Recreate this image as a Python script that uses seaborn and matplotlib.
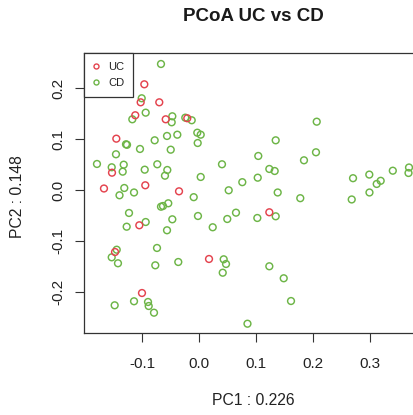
import matplotlib
matplotlib.use("Agg")
import matplotlib.pyplot as plt
from matplotlib.lines import Line2D
import seaborn as sns
import pandas as pd

# ---- data ----
groups = ["UC", "CD"]
uc_pc1 = [-0.0961, -0.1025, -0.0698, -0.1120, -0.0585, -0.0206, -0.1453, -0.1529,
          -0.1670, -0.0944, -0.0351, -0.1049, -0.1476, 0.0176, -0.1002, 0.1236]
uc_pc2 = [0.2078, 0.1725, 0.1725, 0.1471, 0.1392, 0.1412, 0.1012, 0.0345,
          0.0035, 0.0098, -0.0020, -0.0686, -0.1210, -0.1347, -0.2014, -0.0431]
cd_pc1 = [-0.0668, -0.1007, -0.0937, -0.1172, -0.0469, -0.0480, -0.0241, -0.0128,
          -0.0030, 0.0030, -0.0023, -0.0381, -0.0562, -0.0779, -0.1283, -0.1265,
          -0.1037, -0.0497, -0.1459, -0.1793, -0.1534, -0.1323, -0.1341, -0.0954,
          -0.0733, -0.0557, -0.0598, 0.0030, 0.0404, 0.0761, 0.0522, -0.1313,
          -0.1397, -0.1142, -0.0093, -0.0540, -0.0633, -0.0668, -0.1230, -0.0469,
          -0.0018, 0.0497, 0.0650, -0.0937, -0.1271, -0.0562, 0.0241, -0.1446,
          -0.1534, -0.1424, -0.0738, -0.0768, -0.0364, 0.0434, 0.0475, 0.0417,
          -0.1142, -0.1482, -0.0896, -0.0884, -0.0791, 0.0852, 0.2069, 0.1348,
          0.1042, 0.1845, 0.2056, 0.1032, 0.1236, 0.1330, 0.1383, 0.1780,
          0.2707, 0.2993, 0.3123, 0.3193, 0.2996, 0.2684, 0.3406, 0.3691,
          0.3682, 0.1025, 0.1348, 0.1236, 0.1489, 0.1617]
cd_pc2 = [0.2476, 0.1804, 0.1522, 0.1392, 0.1451, 0.1333, 0.1424, 0.1373,
          0.1129, 0.1090, 0.0927, 0.1090, 0.1065, 0.0980, 0.0902, 0.0892,
          0.0810, 0.0796, 0.0706, 0.0516, 0.0451, 0.0502, 0.0365, 0.0404,
          0.0510, 0.0398, 0.0286, 0.0261, 0.0510, 0.0159, 0.0000, 0.0045,
          -0.0098, -0.0043, -0.0135, -0.0255, -0.0308, -0.0322, -0.0445, -0.0569,
          -0.0504, -0.0563, -0.0439, -0.0622, -0.0714, -0.0784, -0.0725, -0.1165,
          -0.1314, -0.1431, -0.1131, -0.1471, -0.1406, -0.1353, -0.1445, -0.1616,
          -0.2176, -0.2255, -0.2190, -0.2269, -0.2400, -0.2616, 0.1345, 0.0980,
          0.0673, 0.0588, 0.0745, 0.0247, 0.0418, 0.0378, -0.0043, -0.0155,
          0.0237, 0.0308, 0.0124, 0.0186, -0.0043, -0.0180, 0.0384, 0.0447,
          0.0339, -0.0543, -0.0510, -0.1490, -0.1725, -0.2171]
x_ticks = [-0.1, 0.0, 0.1, 0.2, 0.3]
y_ticks = [-0.2, -0.1, 0.0, 0.1, 0.2]
title = "PCoA UC vs CD"
xlabel = "PC1 : 0.226"
ylabel = "PC2 : 0.148"

df = pd.concat([
    pd.DataFrame({"PC1": cd_pc1, "PC2": cd_pc2, "group": "CD"}),
    pd.DataFrame({"PC1": uc_pc1, "PC2": uc_pc2, "group": "UC"}),
], ignore_index=True)

palette = {"UC": "#E4434E", "CD": "#6DB547"}

sns.set_style("white")
plt.rcParams["font.family"] = ["Liberation Sans", "DejaVu Sans"]

fig = plt.figure(figsize=(4.14, 4.15), dpi=100)
ax = fig.add_axes([0.2029, 0.1976, 0.8164, 0.6735])

sns.scatterplot(data=df, x="PC1", y="PC2", hue="group", hue_order=groups,
                palette=palette, s=24, marker="o", legend=False, ax=ax, zorder=3)
coll = ax.collections[0]
fc = coll.get_facecolors()
coll.set_edgecolors(fc)
coll.set_facecolors("none")
coll.set_linewidths(1.05)

ax.set_xlim(-0.2021, 0.3919)
ax.set_ylim(-0.2798, 0.2682)
ax.set_xticks(x_ticks)
ax.set_xticklabels([f"{v:.1f}" for v in x_ticks])
ax.set_yticks(y_ticks)
ax.set_yticklabels([f"{v:.1f}" for v in y_ticks], rotation=90, va="center")

for sp in ax.spines.values():
    sp.set_visible(True)
    sp.set_color("#333333")
    sp.set_linewidth(0.9)

ax.tick_params(axis="both", which="major", direction="out", length=6.5, width=0.8,
               color="#333333", labelsize=11, labelcolor="#222222",
               bottom=True, left=True, top=False, right=False)
ax.tick_params(axis="x", pad=10.5)
ax.tick_params(axis="y", pad=7)

ax.set_xlabel(xlabel, fontsize=11.3, color="#222222", va="center")
ax.xaxis.set_label_coords(0.5, -0.2433)
ax.set_ylabel(ylabel, fontsize=11.3, color="#222222", va="center")
ax.yaxis.set_label_coords(-0.198, 0.489)
ax.set_title(title, fontsize=13.5, fontweight="bold", color="#1a1a1a",
             y=1.1317, va="center", pad=0)

handles = [Line2D([], [], linestyle="none", marker="o", markersize=3.6,
                  markerfacecolor="none", markeredgecolor=palette[g],
                  markeredgewidth=1.0, label=g) for g in groups]
leg = ax.legend(handles=handles, loc="upper left", borderaxespad=0,
                fontsize=8, frameon=True, fancybox=False, framealpha=1,
                edgecolor="#333333", borderpad=0.8, handlelength=0.6,
                handletextpad=0.75, labelspacing=0.5)
leg.get_frame().set_linewidth(0.9)
for t in leg.get_texts():
    t.set_color("#222222")

fig.savefig("out.png", dpi=100)
